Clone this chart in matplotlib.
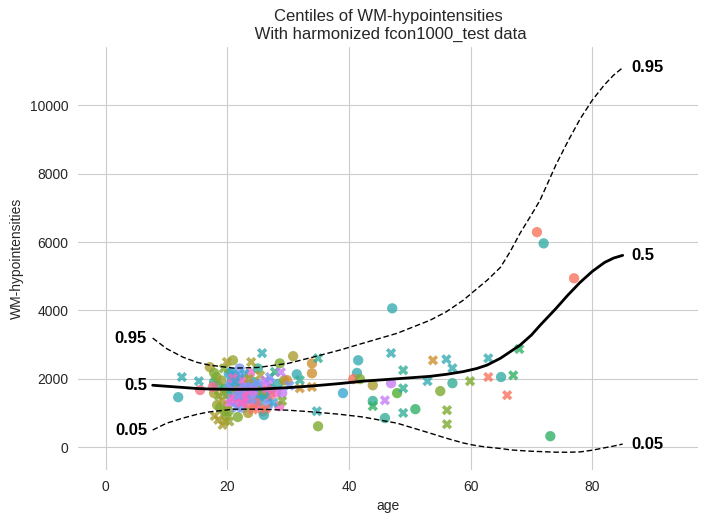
import numpy as np
import matplotlib
matplotlib.use("Agg")
import matplotlib.pyplot as plt
import seaborn as sns

# --- centile curves ---
curve_age = [7.7, 10, 12.7, 15, 17, 21, 25, 30, 34, 38.5, 42.3, 47.9, 53.3, 56, 58.8,
             61, 62.7, 64.9, 66.5, 68.1, 70, 71.4, 74, 76, 78, 80, 82, 83.5, 85]
c05 = [500, 700, 850, 960, 1030, 1110, 1110, 1080, 1030, 960, 880, 700, 410, 260, 120,
       40, 0, -40, -80, -100, -120, -130, -148, -150, -140, -90, -20, 30, 90]
c50 = [1810, 1780, 1745, 1715, 1700, 1690, 1695, 1740, 1790, 1860, 1930, 2000, 2070, 2130, 2210,
       2300, 2400, 2600, 2790, 2980, 3280, 3560, 4050, 4450, 4820, 5140, 5400, 5530, 5610]
c95 = [3190, 2880, 2630, 2480, 2400, 2310, 2330, 2450, 2630, 2840, 3040, 3330, 3710, 3960, 4300,
       4630, 4880, 5260, 5720, 6250, 6800, 7220, 8250, 8950, 9600, 10150, 10600, 10880, 11100]
centile_names = ["0.05", "0.5", "0.95"]

# --- test subjects: age, WM-hypointensities, site index, sex (0 = o, 1 = X) ---
age = [11.9, 12.5, 15.3, 15.5, 25.7, 30.8, 34.9, 33.9, 33.9, 34.7, 34.9, 31.9, 33.9, 31.4, 31.9,
       41.5, 41.3, 40.7, 41.8, 43.9, 39.0, 46.9, 45.9, 43.9, 43.9, 45.9, 46.9, 48.9, 48.9, 47.9,
       48.9, 47.1, 53.8, 56.0, 57.0, 52.9, 57.0, 55.0, 50.9, 56.1, 56.1, 59.9, 62.9, 65.0, 67.0,
       66.0, 62.9, 68.0, 70.9, 72.0, 77.0, 73.1,
       17.1, 17.8, 17.8, 17.8, 18.3, 17.9, 18.5, 19.2, 19.6, 20.3, 18.2, 18.4, 18.6, 19.0, 19.1,
       19.4, 19.6, 19.9, 20.1, 20.2, 20.4, 20.6, 20.9, 20.9, 20.9, 21.1, 21.3, 21.5, 21.7, 21.7,
       21.9, 22.0, 22.1, 22.2, 22.4, 22.5, 22.6, 22.8, 23.0, 23.1, 23.3, 23.5, 23.7, 23.8, 23.9,
       24.0, 24.2, 24.4, 24.6, 24.8, 24.9, 25.0, 25.2, 25.4, 25.6, 25.8, 26.0, 26.2, 26.4, 26.7,
       26.8, 27.0, 27.2, 27.5, 27.8, 28.0, 28.3, 28.6, 28.8, 29.0, 29.0, 29.3, 29.8, 30.2, 26.3,
       23.4, 21.0, 20.0, 22.8, 28.5, 27.0, 19.5, 21.5, 17.6, 23.6, 22.0, 24.0, 20.8, 26.5, 21.8,
       25.5, 18.8, 19.8, 20.5, 22.3, 24.3, 21.2, 23.2, 25.1, 19.3, 20.7, 22.9, 24.7, 26.0, 20.2]
wm = [1460, 2050, 1930, 1670, 2750, 2660, 2600, 2450, 2160, 1050, 610, 1720, 1760, 2130, 1960,
      2540, 2170, 1990, 1990, 1810, 1580, 1870, 1370, 1350, 1200, 850, 2750, 2250, 1720, 1580,
      1000, 4060, 2540, 2570, 2310, 1930, 1870, 1640, 1110, 1080, 670, 1930, 2050, 2050, 2100,
      1520, 2600, 2870, 6290, 5960, 4940, 320,
      2340, 2170, 1900, 1580, 1230, 910, 800, 650, 760, 750, 2050, 1800, 1500, 1950, 1370,
      2300, 1700, 2490, 1250, 1050, 1760, 2200, 2540, 2020, 1430, 1600, 1900, 1150, 1290, 880,
      2050, 2300, 1750, 1350, 1610, 1950, 1150, 2150, 1500, 1800, 1250, 2000, 2160, 1650, 2490,
      1400, 1100, 1900, 1550, 1200, 1760, 2300, 1350, 2100, 1650, 1050, 940, 1950, 1450, 1230,
      1900, 2050, 1700, 1300, 2200, 1600, 1850, 2450, 2190, 1580, 1350, 1950, 1960, 1800, 1120,
      1000, 1800, 1550, 1450, 1200, 1500, 1050, 1700, 1760, 1700, 1650, 1850, 1950, 1700, 1500,
      1500, 1150, 900, 1850, 1300, 1650, 2100, 1400, 1850, 1600, 1350, 1750, 1300, 1550, 2150]
site = [13, 13, 13, 0, 13, 5, 11, 3, 3, 13, 7, 3, 3, 13, 11,
        13, 13, 1, 7, 5, 15, 19, 19, 11, 9, 11, 13, 11, 11, 8,
        11, 13, 3, 13, 13, 13, 11, 7, 9, 7, 7, 7, 1, 12, 9,
        1, 13, 9, 1, 12, 1, 9,
        5, 7, 11, 5, 6, 5, 5, 5, 5, 6, 7, 11, 7, 6, 5,
        7, 9, 5, 22, 7, 17, 15, 6, 22, 22, 17, 15, 17, 22, 7,
        17, 17, 13, 19, 17, 22, 17, 15, 22, 19, 0, 5, 22, 15, 5,
        17, 1, 11, 22, 22, 15, 11, 13, 5, 7, 1, 13, 19, 17, 17,
        19, 17, 11, 15, 10, 22, 13, 7, 19, 19, 7, 6, 3, 17, 1,
        5, 0, 11, 22, 22, 0, 6, 6, 0, 22, 19, 17, 11, 22, 17,
        15, 7, 7, 17, 22, 19, 15, 22, 17, 6, 19, 17, 0, 13, 15]
sex = [0, 1, 1, 0, 1, 0, 1, 0, 0, 1, 0, 1, 1, 0, 1,
       0, 0, 0, 0, 0, 0, 0, 1, 0, 1, 0, 1, 1, 1, 0,
       1, 0, 1, 1, 1, 1, 0, 0, 0, 1, 1, 1, 1, 0, 1,
       1, 1, 1, 0, 0, 0, 0,
       0, 0, 0, 0, 0, 1, 1, 1, 1, 1, 0, 0, 1, 0, 1,
       1, 0, 1, 0, 0, 0, 0, 0, 1, 1, 0, 1, 1, 0, 0,
       0, 0, 0, 1, 0, 0, 0, 1, 1, 0, 0, 1, 0, 0, 1,
       1, 1, 0, 0, 0, 0, 0, 0, 1, 1, 0, 0, 1, 0, 0,
       0, 1, 0, 1, 1, 0, 0, 0, 1, 0, 1, 0, 0, 1, 1,
       0, 0, 0, 0, 0, 0, 0, 0, 0, 0, 0, 0, 0, 1, 1,
       0, 0, 0, 0, 1, 1, 0, 0, 0, 1, 0, 1, 0, 0, 0]

sns.set_style("whitegrid")
plt.rcParams['font.family'] = ['Liberation Sans', 'DejaVu Sans']

fig = plt.figure(figsize=(7.08, 5.24), dpi=100)
ax = fig.add_axes([0.110, 0.103, 0.876, 0.807])

palette = sns.husl_palette(24)
age_a = np.array(age)
wm_a = np.array(wm)
cols = np.array([palette[s] for s in site])
sex_a = np.array(sex)
for flag, marker in [(0, "o"), (1, "X")]:
    m = sex_a == flag
    ax.scatter(age_a[m], wm_a[m], c=cols[m], marker=marker, s=55, alpha=0.8, linewidths=0, zorder=2)

for name, vals in zip(centile_names, [c05, c50, c95]):
    if name == "0.5":
        ax.plot(curve_age, vals, color="black", lw=2, zorder=3)
    else:
        ax.plot(curve_age, vals, color="black", lw=1, ls="--", dashes=(4, 2), zorder=3)
    ax.annotate(name, (curve_age[0], vals[0]), xytext=(-4, 0), textcoords="offset points",
                ha="right", va="center", fontsize=12, fontweight="bold", color="black")
    ax.annotate(name, (curve_age[-1], vals[-1]), xytext=(6, 0), textcoords="offset points",
                ha="left", va="center", fontsize=12, fontweight="bold", color="black")

ax.set_xlim(-4.6, 97.4)
ax.set_ylim(-670, 11700)
ax.set_xlabel("age")
ax.set_ylabel("WM-hypointensities")
ax.set_title("Centiles of WM-hypointensities\n With harmonized fcon1000_test data")
sns.despine(left=True, bottom=True)

fig.savefig("out.png", dpi=100)
